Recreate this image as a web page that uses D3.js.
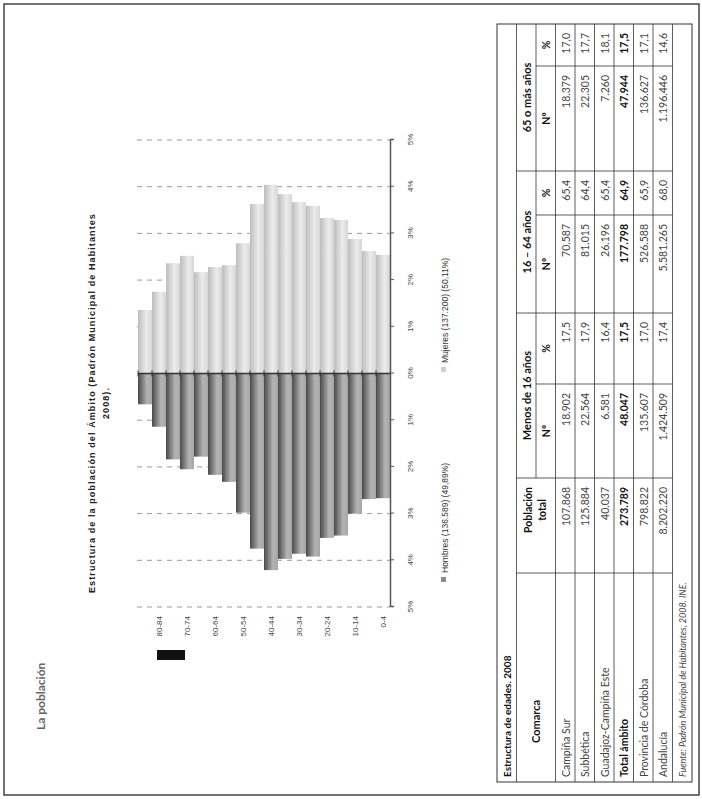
<!DOCTYPE html>
<html lang="es">
<head>
<meta charset="UTF-8">
<title>Estructura de la población del Ámbito</title>
<script src="https://d3js.org/d3.v7.min.js"></script>
<style>
    body { margin: 0; background: #fff; }
    svg { display: block; }
    .tbl { font-family: Lato, "Open Sans", sans-serif; }
    .chart text { font-family: "Liberation Sans", Arial, sans-serif; }
</style>
</head>
<body>

<svg id="page" width="702" height="799"></svg>

<script>
    // Age groups, youngest first
    const ageGroups = ["0-4", "5-9", "10-14", "15-19", "20-24", "25-29", "30-34", "35-39", "40-44",
                       "45-49", "50-54", "55-59", "60-64", "65-69", "70-74", "75-79", "80-84", "85+"];
    // % of total population
    const hombresPct = [2.67, 2.69, 3.00, 3.47, 3.52, 3.92, 3.86, 3.97, 4.21,
                        3.75, 2.98, 2.32, 2.17, 1.78, 2.05, 1.84, 1.14, 0.66];
    const mujeresPct = [2.54, 2.62, 2.88, 3.29, 3.33, 3.59, 3.67, 3.84, 4.04,
                        3.63, 2.79, 2.32, 2.28, 2.17, 2.52, 2.36, 1.75, 1.36];
    const pctTicks = [-5, -4, -3, -2, -1, 0, 1, 2, 3, 4, 5];
    const legendLabels = ["Hombres (136.589) (49,89%)", "Mujeres (137.200) (50,11%)"];

    // Table: Estructura de edades. 2008
    const comarcas = ["Campiña Sur", "Subbética", "Guadajoz-Campiña Este", "Total ámbito", "Provincia de Córdoba", "Andalucía"];
    const poblacionTotal = ["107.868", "125.884", "40.037", "273.789", "798.822", "8.202.220"];
    const menos16N = ["18.902", "22.564", "6.581", "48.047", "135.607", "1.424.509"];
    const menos16P = ["17,5", "17,9", "16,4", "17,5", "17,0", "17,4"];
    const de16a64N = ["70.587", "81.015", "26.196", "177.798", "526.588", "5.581.265"];
    const de16a64P = ["65,4", "64,4", "65,4", "64,9", "65,9", "68,0"];
    const mas65N = ["18.379", "22.305", "7.260", "47.944", "136.627", "1.196.446"];
    const mas65P = ["17,0", "17,7", "18,1", "17,5", "17,1", "14,6"];
    const groupHeaders = ["Menos de 16 años", "16 – 64 años", "65 o más años"];

    const svg = d3.select("#page");

    // the scanned page lies on its side, so draw it upright and turn it a quarter
    const page = svg.append("g").attr("transform", "translate(0,799) rotate(-90)");

    // page frame
    page.append("rect")
        .attr("x", 4).attr("y", 4).attr("width", 791).attr("height", 695)
        .attr("fill", "none").attr("stroke", "#444").attr("stroke-width", 1.5);

    page.append("text")
        .attr("x", 69).attr("y", 45)
        .attr("font-family", "Lato, sans-serif").attr("font-weight", "bold")
        .attr("font-size", "12px").attr("fill", "#666")
        .text("La población");

    // ---------------- pyramid ----------------
    const chart = page.append("g").attr("class", "chart");

    const x = d3.scaleLinear().domain([-5, 5]).range([192, 659]);
    const y = d3.scaleBand().domain(ageGroups.slice().reverse()).range([138, 390]).padding(0);

    const defs = svg.append("defs");
    const gradH = defs.append("linearGradient").attr("id", "gH")
        .attr("x1", 0).attr("y1", 0).attr("x2", 0).attr("y2", 1);
    gradH.append("stop").attr("offset", 0).attr("stop-color", "#4a4a4a");
    gradH.append("stop").attr("offset", 0.65).attr("stop-color", "#b4b4b4");
    gradH.append("stop").attr("offset", 1).attr("stop-color", "#a6a6a6");
    const gradM = defs.append("linearGradient").attr("id", "gM")
        .attr("x1", 0).attr("y1", 0).attr("x2", 0).attr("y2", 1);
    gradM.append("stop").attr("offset", 0).attr("stop-color", "#bdbdbd");
    gradM.append("stop").attr("offset", 0.6).attr("stop-color", "#ececec");
    gradM.append("stop").attr("offset", 1).attr("stop-color", "#d6d6d6");

    // dashed gridlines
    chart.selectAll(".grid")
        .data(pctTicks.filter(d => d !== 0))
        .enter().append("line")
        .attr("x1", d => x(d)).attr("x2", d => x(d))
        .attr("y1", 137).attr("y2", 390)
        .attr("stroke", "#9a9a9a").attr("stroke-dasharray", "5,5");

    // bars
    chart.selectAll(".hombre")
        .data(ageGroups)
        .enter().append("rect")
        .attr("x", (d, i) => x(-hombresPct[i]))
        .attr("y", d => y(d))
        .attr("width", (d, i) => x(0) - x(-hombresPct[i]))
        .attr("height", y.bandwidth())
        .attr("fill", "url(#gH)");

    chart.selectAll(".mujer")
        .data(ageGroups)
        .enter().append("rect")
        .attr("x", x(0))
        .attr("y", d => y(d))
        .attr("width", (d, i) => x(mujeresPct[i]) - x(0))
        .attr("height", y.bandwidth())
        .attr("fill", "url(#gM)");

    // zero line with small ticks between groups
    chart.append("line")
        .attr("x1", x(0)).attr("x2", x(0)).attr("y1", 138).attr("y2", 390)
        .attr("stroke", "#333").attr("stroke-width", 1.3);
    chart.selectAll(".ztick")
        .data(ageGroups)
        .enter().append("line")
        .attr("x1", x(0) - 3).attr("x2", x(0) + 3)
        .attr("y1", d => y(d)).attr("y2", d => y(d))
        .attr("stroke", "#333");

    // percentage axis
    const xAxis = chart.append("g")
        .attr("transform", "translate(0,390)")
        .call(d3.axisBottom(x).tickValues(pctTicks).tickFormat(d => Math.abs(d) + "%").tickSize(4).tickPadding(13));
    xAxis.select(".domain").attr("stroke", "#555").attr("stroke-width", 1.5);
    xAxis.selectAll(".tick line").attr("stroke", "#555");
    xAxis.selectAll("text").attr("font-size", "8px").attr("fill", "#444");

    // age labels, every other group
    const yAxis = chart.append("g")
        .attr("transform", "translate(185,0)")
        .call(d3.axisLeft(y).tickSize(0).tickPadding(2)
            .tickFormat(d => ageGroups.indexOf(d) % 2 === 0 ? d : ""));
    yAxis.select(".domain").remove();
    yAxis.selectAll("text").attr("font-size", "8px").attr("fill", "#444");

    // title
    const title = chart.append("text")
        .attr("text-anchor", "middle").attr("font-weight", "bold")
        .attr("font-size", "9px").attr("letter-spacing", "1.1px").attr("fill", "#222");
    title.append("tspan").attr("x", 396).attr("y", 95)
        .text("Estructura de la población del Ámbito (Padrón Municipal de Habitantes");
    title.append("tspan").attr("x", 396).attr("y", 109).text("2008).");

    // legend
    const legendX = [217, 427];
    const legendFill = ["#8c8c8c", "#d0d0d0"];
    legendLabels.forEach((t, i) => {
        chart.append("rect")
            .attr("x", legendX[i]).attr("y", 441).attr("width", 5).attr("height", 5)
            .attr("fill", legendFill[i]);
        chart.append("text")
            .attr("x", legendX[i] + 9).attr("y", 448)
            .attr("font-size", "8.5px").attr("fill", "#333")
            .text(t);
    });

    // stray black mark on the scan
    page.append("rect")
        .attr("x", 139).attr("y", 157).attr("width", 10).attr("height", 28)
        .attr("fill", "#111");

    // ---------------- table ----------------
    const tbl = page.append("g").attr("class", "tbl");
    const tTop = 497, rowH = 19.5;
    const rowY = i => tTop + i * rowH;
    const cols = [17, 226, 321, 415, 486, 584, 628, 733, 775];
    const lineColor = "#333";

    // outline
    tbl.append("rect")
        .attr("x", cols[0]).attr("y", rowY(0))
        .attr("width", cols[8] - cols[0]).attr("height", rowY(10) - rowY(0))
        .attr("fill", "none").attr("stroke", lineColor).attr("stroke-width", 1);

    // row separators
    [1, 3, 4, 5, 6, 7, 8, 9].forEach(r => {
        tbl.append("line")
            .attr("x1", cols[0]).attr("x2", cols[8])
            .attr("y1", rowY(r)).attr("y2", rowY(r))
            .attr("stroke", lineColor).attr("stroke-width", 0.8);
    });
    tbl.append("line")
        .attr("x1", cols[2]).attr("x2", cols[8]).attr("y1", rowY(2)).attr("y2", rowY(2))
        .attr("stroke", lineColor).attr("stroke-width", 0.8);

    // column separators
    [1, 2, 4, 6].forEach(c => {
        tbl.append("line")
            .attr("x1", cols[c]).attr("x2", cols[c]).attr("y1", rowY(1)).attr("y2", rowY(9))
            .attr("stroke", lineColor).attr("stroke-width", 0.8);
    });
    [3, 5, 7].forEach(c => {
        tbl.append("line")
            .attr("x1", cols[c]).attr("x2", cols[c]).attr("y1", rowY(2)).attr("y2", rowY(9))
            .attr("stroke", lineColor).attr("stroke-width", 0.8);
    });

    // title row
    tbl.append("text")
        .attr("x", cols[0] + 5).attr("y", rowY(0) + 14)
        .attr("font-size", "10px").attr("font-weight", "bold").attr("fill", "#111")
        .text("Estructura de edades. 2008");

    // headers
    tbl.append("text")
        .attr("x", 56).attr("y", rowY(2) + 4)
        .attr("font-size", "11px").attr("font-weight", "bold").attr("fill", "#111")
        .text("Comarca");
    const pob = tbl.append("text")
        .attr("text-anchor", "middle").attr("font-size", "10.5px").attr("font-weight", "bold").attr("fill", "#111");
    pob.append("tspan").attr("x", 289).attr("y", rowY(1) + 15).text("Población");
    pob.append("tspan").attr("x", 289).attr("y", rowY(2) + 10).text("total");

    groupHeaders.forEach((h, i) => {
        tbl.append("text")
            .attr("x", (cols[2 + 2 * i] + cols[4 + 2 * i]) / 2).attr("y", rowY(1) + 14)
            .attr("text-anchor", "middle")
            .attr("font-size", "11px").attr("font-weight", "bold").attr("fill", "#111")
            .text(h);
        ["Nº", "%"].forEach((s, j) => {
            tbl.append("text")
                .attr("x", (cols[2 + 2 * i + j] + cols[3 + 2 * i + j]) / 2).attr("y", rowY(2) + 14)
                .attr("text-anchor", "middle")
                .attr("font-size", "10.5px").attr("font-weight", "bold").attr("fill", "#111")
                .text(s);
        });
    });

    // data rows
    const numCols = [poblacionTotal, menos16N, menos16P, de16a64N, de16a64P, mas65N, mas65P];
    comarcas.forEach((c, r) => {
        const bold = c === "Total ámbito";
        const rowG = tbl.append("g")
            .attr("font-size", "10.5px")
            .attr("font-weight", bold ? "bold" : "normal")
            .attr("fill", bold ? "#111" : "#444");
        rowG.append("text")
            .attr("x", cols[0] + 5).attr("y", rowY(3 + r) + 14)
            .text(c);
        numCols.forEach((col, k) => {
            rowG.append("text")
                .attr("x", cols[k + 2] - 9).attr("y", rowY(3 + r) + 14)
                .attr("text-anchor", "end")
                .text(col[r]);
        });
    });

    // source
    tbl.append("text")
        .attr("x", cols[0] + 5).attr("y", rowY(9) + 13)
        .attr("font-size", "9px").attr("font-style", "italic").attr("fill", "#444")
        .text("Fuente: Padrón Municipal de Habitantes, 2008. INE.");
</script>

</body>
</html>
